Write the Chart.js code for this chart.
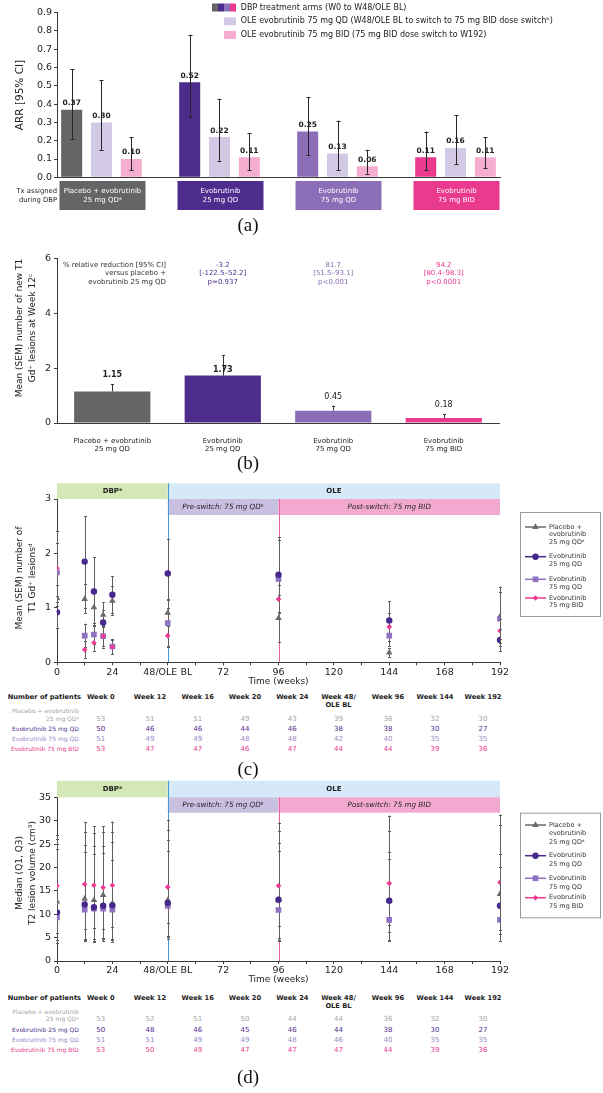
<!DOCTYPE html>
<html><head><meta charset="utf-8">
<script src="https://cdn.jsdelivr.net/npm/chart.js@4.4.1/dist/chart.umd.min.js"></script>
<style>
html,body{margin:0;padding:0;background:#fff}
body{width:603px;height:1093px;position:relative;overflow:hidden;font-family:"DejaVu Sans",sans-serif}
canvas{position:absolute;left:0}
.cap{position:absolute;font-family:"Liberation Serif","DejaVu Serif",serif;font-size:19px;color:#111;transform:translate(-50%,-50%);white-space:nowrap;line-height:1}
.tc{position:absolute;white-space:nowrap;transform:translate(-50%,-50%);line-height:1}
.tr{position:absolute;white-space:nowrap;transform:translate(-100%,-50%);line-height:1}
.tl{position:absolute;white-space:nowrap;transform:translate(0,-50%);line-height:1}
</style></head>
<body>
<canvas id="cA" width="603" height="218" style="top:0px"></canvas>
<canvas id="cB" width="603" height="215" style="top:240px"></canvas>
<canvas id="cC" width="603" height="207" style="top:480px"></canvas>
<canvas id="cD" width="603" height="207" style="top:778px"></canvas>
<div id="extra"></div>
<script>
// ================= DATA =================
// (a) Annualized relapse rate
const armNames = [['Placebo + evobrutinib','25 mg QDᵃ'],['Evobrutinib','25 mg QD'],['Evobrutinib','75 mg QD'],['Evobrutinib','75 mg BID']];
const arrLegend = ['DBP treatment arms (W0 to W48/OLE BL)','OLE evobrutinib 75 mg QD (W48/OLE BL to switch to 75 mg BID dose switchᵇ)','OLE evobrutinib 75 mg BID (75 mg BID dose switch to W192)'];
const arrDBP     = [0.37,0.52,0.25,0.11];
const arrDBPLo   = [0.21,0.33,0.12,0.04];
const arrDBPHi   = [0.59,0.78,0.44,0.25];
const arrOleQD   = [0.30,0.22,0.13,0.16];
const arrOleQDLo = [0.15,0.09,0.04,0.07];
const arrOleQDHi = [0.53,0.43,0.31,0.34];
const arrOleBID  = [0.10,0.11,0.06,0.11];
const arrOleBIDLo= [0.04,0.04,0.02,0.05];
const arrOleBIDHi= [0.22,0.24,0.15,0.22];
const txAssigned = ['Tx assigned','during DBP'];

// (b) new T1 Gd+ lesions at week 12
const t1Arms = [['Placebo + evobrutinib','25 mg QD'],['Evobrutinib','25 mg QD'],['Evobrutinib','75 mg QD'],['Evobrutinib','75 mg BID']];
const t1Mean  = [1.15,1.73,0.45,0.18];
const t1SemHi = [1.41,2.48,0.63,0.32];
const t1RedHeader = ['% relative reduction [95% CI]','versus placebo +','evobrutinib 25 mg QD'];
const t1Red   = ['','-3.2','81.7','94.2'];
const t1RedCI = ['','[-122.5–52.2]','[51.5–93.1]','[80.4–98.3]'];
const t1RedP  = ['','p=0.937','p<0.001','p<0.0001'];

// (c),(d) common
const weeks = [0,12,16,20,24,48,96,144,192];
const weekTicks = [0,24,48,72,96,120,144,168,192];
const weekTickText = ['0','24','48/OLE BL','72','96','120','144','168','192'];
const phaseNames = ['DBPᵃ','OLE'];
const phaseBounds = [0,48,192];
const subPhaseNames = ['Pre-switch: 75 mg QDᵇ','Post-switch: 75 mg BID'];
const subPhaseBounds = [48,96,192];
const seriesNames = [['Placebo +','evobrutinib','25 mg QDᵃ'],['Evobrutinib','25 mg QD'],['Evobrutinib','75 mg QD'],['Evobrutinib','75 mg BID']];

// (c) Mean (SEM) T1 Gd+ lesions
const gdPlacebo   = [1.18,1.16,1.01,0.87,1.13,0.91,0.81,0.18,0.84];
const gdPlaceboLo = [0.95,0.90,0.72,0.64,0.87,0.66,0.38,0.10,0.30];
const gdPlaceboHi = [1.42,1.43,1.30,1.10,1.40,1.16,1.24,0.26,1.39];
const gdE25   = [0.92,1.85,1.30,0.73,1.24,1.63,1.61,0.77,0.41];
const gdE25Lo = [0.63,1.00,0.67,0.50,0.90,1.00,0.93,0.40,0.20];
const gdE25Hi = [1.21,2.69,1.93,0.96,1.58,2.26,2.30,1.13,0.62];
const gdE75   = [1.65,0.49,0.51,0.48,0.29,0.72,1.53,0.49,0.80];
const gdE75Lo = [1.10,0.28,0.33,0.30,0.16,0.30,0.82,0.30,0.42];
const gdE75Hi = [2.20,0.71,0.69,0.66,0.42,1.14,2.24,0.68,1.30];
const gdB75   = [1.73,0.23,0.36,0.48,0.28,0.49,1.16,0.65,0.58];
const gdB75Lo = [1.04,0.07,0.21,0.27,0.15,0.28,0.90,0.40,0.35];
const gdB75Hi = [2.42,0.39,0.50,0.69,0.41,0.70,1.42,0.90,0.80];

// (d) Median (Q1,Q3) T2 lesion volume
const t2Placebo   = [12.7,13.3,13.0,14.1,12.3,13.0,13.1,12.9,14.3];
const t2PlaceboQ1 = [4.5,4.2,4.3,5.0,4.4,5.3,5.0,4.3,5.8];
const t2PlaceboQ3 = [26.0,29.7,28.8,28.8,29.8,30.2,29.6,31.1,31.3];
const t2E25   = [10.4,12.1,11.5,11.8,11.9,12.4,13.1,12.9,11.8];
const t2E25Q1 = [3.9,4.6,4.1,4.8,4.1,4.8,4.2,6.3,4.2];
const t2E25Q3 = [25.0,24.8,24.6,24.6,25.5,25.8,25.3,23.3,22.9];
const t2E75   = [9.3,11.0,11.2,11.2,11.0,11.8,10.9,8.8,8.8];
const t2E75Q1 = [4.4,4.4,4.6,4.2,4.6,5.2,4.5,4.5,4.3];
const t2E75Q3 = [24.0,23.4,22.8,23.0,21.5,23.5,23.6,21.8,20.2];
const t2B75   = [16.1,16.4,16.2,15.7,16.2,15.8,16.1,16.6,16.8];
const t2B75Q1 = [6.0,6.8,7.0,6.9,7.2,8.1,7.5,7.6,6.6];
const t2B75Q3 = [27.0,27.5,27.4,27.5,27.6,28.0,27.8,27.7,29.0];

// patient tables
const tableCols = ['Week 0','Week 12','Week 16','Week 20','Week 24',['Week 48/','OLE BL'],'Week 96','Week 144','Week 192'];
const tableRows = [['Placebo + evobrutinib','25 mg QDᵃ'],['Evobrutinib 25 mg QD'],['Evobrutinib 75 mg QD'],['Evobrutinib 75 mg BID']];
const nGdPlacebo = [53,51,51,49,43,39,36,32,30];
const nGdE25     = [50,46,46,44,46,38,38,30,27];
const nGdE75     = [51,49,49,48,48,42,40,35,35];
const nGdB75     = [53,47,47,46,47,44,44,39,36];
const nT2Placebo = [53,52,51,50,44,44,36,32,30];
const nT2E25     = [50,48,46,45,46,44,38,30,27];
const nT2E75     = [51,51,49,49,48,46,40,35,35];
const nT2B75     = [53,50,49,47,47,47,44,39,36];

// ================= STYLE =================
const armColors = ['#646567','#4d2c8d','#8b6eb7','#e93a8e'];
const oleQDColor = '#d2c9e5', oleBIDColor = '#f5add0';
const seriesStyle = [
  {color:'#6a6a6a', style:'triangle', r:3.8, order:3},
  {color:'#47288d', style:'circle',   r:3.2, order:1},
  {color:'#8e71c1', style:'rect',     r:4.0, order:2},
  {color:'#ee3a95', style:'rectRot',  r:2.8, order:0}
];
const rowColors = ['#a3a3a3','#4d2c8d','#9a86c6','#e93a8e'];
const AXIS = '#3a3a3a';
const PAGE_W = 603;
const FONT = '"DejaVu Sans", sans-serif';

Chart.defaults.font.family = FONT;
Chart.defaults.color = '#222';
Chart.defaults.animation = false;
Chart.defaults.responsive = false;
Chart.defaults.maintainAspectRatio = false;
Chart.defaults.devicePixelRatio = 1;
Chart.defaults.plugins.legend.display = false;
Chart.defaults.plugins.tooltip.enabled = false;

function font(size, weight, style){ return (style||'') + ' ' + (weight||'normal') + ' ' + size + 'px ' + FONT; }
function yTitle(ctx, lines, x, cy, size, gap){
  ctx.save(); ctx.font = font(size); ctx.fillStyle = '#222'; ctx.textAlign='center'; ctx.textBaseline='middle';
  lines.forEach((t,i)=>{ ctx.save(); ctx.translate(x + i*gap, cy); ctx.rotate(-Math.PI/2); ctx.fillText(t,0,0); ctx.restore(); });
  ctx.restore();
}
function errorBars(chart, color, cap, lw){
  const ctx = chart.ctx, ys = chart.scales.y;
  ctx.save(); ctx.strokeStyle = color; ctx.lineWidth = lw||1;
  chart.data.datasets.forEach((ds, di) => {
    if (!ds.hi) return;
    const meta = chart.getDatasetMeta(di);
    meta.data.forEach((el, i) => {
      const x = Math.round(el.x) + 0.5;
      const yh = ys.getPixelForValue(ds.hi[i]);
      const yl = ds.lo ? ys.getPixelForValue(ds.lo[i]) : el.y;
      ctx.beginPath();
      ctx.moveTo(x, yl); ctx.lineTo(x, yh);
      ctx.moveTo(x-cap, Math.round(yh)+0.5); ctx.lineTo(x+cap, Math.round(yh)+0.5);
      if (ds.lo) { ctx.moveTo(x-cap, Math.round(yl)+0.5); ctx.lineTo(x+cap, Math.round(yl)+0.5); }
      ctx.stroke();
    });
  });
  ctx.restore();
}

// ================= PANEL A =================
const A = {left:57, right:500, top:12.7, bottom:177.3, h:218};
const groupIdx = armNames.map((_,i)=>i);
new Chart(document.getElementById('cA'), {
  type:'bar',
  data:{datasets:[
    {label:arrLegend[0], data:groupIdx.map(i=>({x:i,y:arrDBP[i]})), lo:arrDBPLo, hi:arrDBPHi, backgroundColor:armColors},
    {label:arrLegend[1], data:groupIdx.map(i=>({x:i,y:arrOleQD[i]})), lo:arrOleQDLo, hi:arrOleQDHi, backgroundColor:oleQDColor},
    {label:arrLegend[2], data:groupIdx.map(i=>({x:i,y:arrOleBID[i]})), lo:arrOleBIDLo, hi:arrOleBIDHi, backgroundColor:oleBIDColor}
  ]},
  options:{
    layout:{padding:{left:0, top:A.top, right:PAGE_W-A.right, bottom:0}},
    datasets:{bar:{categoryPercentage:0.758, barPercentage:0.705}},
    scales:{
      x:{type:'linear', offset:false, min:-0.377, max:3.377,
         afterBuildTicks:s=>{ s.ticks = groupIdx.map(v=>({value:v})); },
         ticks:{display:false}, grid:{display:false, offset:false}, border:{color:AXIS},
         afterFit:s=>{ s.height = A.h - A.bottom; }},
      y:{min:0, max:0.9, ticks:{stepSize:0.1, callback:v=>v.toFixed(1), font:{size:9.5}, padding:2, color:'#222'},
         grid:{drawOnChartArea:false, tickLength:3, color:AXIS}, border:{color:AXIS},
         afterFit:s=>{ s.width = A.left; }}
    }
  },
  plugins:[{
    id:'panelA',
    afterDatasetsDraw(chart){
      errorBars(chart, '#262626', 2, 1);
      const ctx = chart.ctx;
      ctx.save(); ctx.font = font(7.5,'bold'); ctx.fillStyle = '#222'; ctx.textAlign='center'; ctx.textBaseline='middle';
      chart.data.datasets.forEach((ds, di) => {
        chart.getDatasetMeta(di).data.forEach((el, i) => {
          ctx.fillText(ds.data[i].y.toFixed(2), el.x, el.y - 6.5);
        });
      });
      ctx.restore();
    },
    afterDraw(chart){
      const ctx = chart.ctx, xs = chart.scales.x;
      ctx.save();
      groupIdx.forEach(i => {
        const cx = xs.getPixelForValue(i) + 1;
        ctx.fillStyle = armColors[i];
        ctx.fillRect(cx-43, 181, 86, 29);
        ctx.fillStyle = '#fff'; ctx.font = font(7); ctx.textAlign='center'; ctx.textBaseline='middle';
        ctx.fillText(armNames[i][0], cx, 191.5);
        ctx.fillText(armNames[i][1], cx, 200.5);
      });
      ctx.fillStyle = '#222'; ctx.font = font(6.8); ctx.textAlign='right'; ctx.textBaseline='middle';
      ctx.fillText(txAssigned[0], 57, 191.5);
      ctx.fillText(txAssigned[1], 57, 200.5);
      armColors.forEach((c,k)=>{ ctx.fillStyle=c; ctx.fillRect(212 + k*6, 3.5, 6, 8); });
      ctx.fillStyle = oleQDColor; ctx.fillRect(224, 17.3, 12, 8);
      ctx.fillStyle = oleBIDColor; ctx.fillRect(224, 31, 12, 8);
      ctx.fillStyle = '#222'; ctx.font = font(8); ctx.textAlign='left';
      ctx.fillText(arrLegend[0], 240.8, 7.5);
      ctx.fillText(arrLegend[1], 240.8, 21.3);
      ctx.fillText(arrLegend[2], 240.8, 35);
      ctx.restore();
      yTitle(ctx, ['ARR [95% CI]'], 20, (A.top+A.bottom)/2, 10.5, 0);
    }
  }]
});

// ================= PANEL B =================
const B = {left:57, right:499, top:18.3, bottom:183, h:215};
const t1Bold = [true,true,false,false];
new Chart(document.getElementById('cB'), {
  type:'bar',
  data:{labels:t1Arms, datasets:[{label:'Mean (SEM) new T1 Gd+ lesions', data:t1Mean, hi:t1SemHi, backgroundColor:armColors, categoryPercentage:0.69, barPercentage:1}]},
  options:{
    layout:{padding:{left:0, top:B.top, right:PAGE_W-B.right, bottom:0}},
    scales:{
      x:{ticks:{font:{size:7}, padding:5.5, color:'#222'}, grid:{display:false}, border:{color:AXIS},
         afterFit:s=>{ s.height = B.h - B.bottom; }},
      y:{min:0, max:6, ticks:{stepSize:2, font:{size:9.5}, padding:3, color:'#222'},
         grid:{drawOnChartArea:false, tickLength:3, color:AXIS}, border:{color:AXIS},
         afterFit:s=>{ s.width = B.left; }}
    }
  },
  plugins:[{
    id:'panelB',
    afterDatasetsDraw(chart){
      errorBars(chart, '#333', 1.5, 1);
      const ctx = chart.ctx, ys = chart.scales.y, ds = chart.data.datasets[0];
      ctx.save(); ctx.fillStyle = '#222'; ctx.textAlign='center'; ctx.textBaseline='middle';
      chart.getDatasetMeta(0).data.forEach((el, i) => {
        const capY = ys.getPixelForValue(ds.hi[i]);
        const y = (el.y - capY > 15) ? el.y - 6 : capY - 9;
        ctx.font = font(8, t1Bold[i] ? 'bold' : 'normal');
        ctx.fillText(t1Mean[i].toFixed(2), el.x, y);
      });
      ctx.restore();
    },
    afterDraw(chart){
      const ctx = chart.ctx, xs = chart.scales.x;
      ctx.save(); ctx.font = font(7); ctx.textBaseline='middle';
      ctx.fillStyle = '#333'; ctx.textAlign='right';
      t1RedHeader.forEach((t,k)=>ctx.fillText(t, 166, 24.7 + k*8.7));
      ctx.textAlign='center';
      t1Arms.forEach((_,i)=>{
        if (!t1Red[i]) return;
        const cx = xs.getPixelForValue(i);
        ctx.fillStyle = armColors[i];
        [t1Red[i], t1RedCI[i], t1RedP[i]].forEach((t,k)=>ctx.fillText(t, cx, 24.7 + k*8.7));
      });
      ctx.restore();
      yTitle(ctx, ['Mean (SEM) number of new T1','Gd⁺ lesions at Week 12ᶜ'], 20, 88, 9, 12.7);
    }
  }]
});

// ================= PANELS C / D =================
function phasePlugin(cfg){
  return {
    id:'phases'+cfg.id,
    beforeDatasetsDraw(chart){
      const ctx = chart.ctx, xs = chart.scales.x, a = chart.chartArea;
      const r1t = a.top - cfg.band1, r2b = a.top + cfg.band2;
      ctx.save();
      const bandCol = ['#d3e8b6','#d5e9f8'], subCol = ['#c8bfe1','#f3a9cf'];
      phaseNames.forEach((n,k)=>{
        const x0 = xs.getPixelForValue(phaseBounds[k]), x1 = xs.getPixelForValue(phaseBounds[k+1]);
        ctx.fillStyle = bandCol[k]; ctx.fillRect(x0, r1t, x1-x0, a.top-r1t);
        ctx.fillStyle = '#222'; ctx.font = font(7,'bold'); ctx.textAlign='center'; ctx.textBaseline='middle';
        ctx.fillText(n, (x0+x1)/2, (r1t+a.top)/2);
      });
      subPhaseNames.forEach((n,k)=>{
        const x0 = xs.getPixelForValue(subPhaseBounds[k]), x1 = xs.getPixelForValue(subPhaseBounds[k+1]);
        ctx.fillStyle = subCol[k]; ctx.fillRect(x0, a.top, x1-x0, r2b-a.top);
        ctx.fillStyle = '#222'; ctx.font = font(7.2,'normal','italic'); ctx.textAlign='center'; ctx.textBaseline='middle';
        ctx.fillText(n, (x0+x1)/2, (a.top+r2b)/2);
      });
      ctx.lineWidth = 1;
      const xb = Math.round(xs.getPixelForValue(phaseBounds[1])) + 0.5;
      ctx.strokeStyle = '#3f9bd8'; ctx.beginPath(); ctx.moveTo(xb, r1t); ctx.lineTo(xb, a.bottom); ctx.stroke();
      const xp = Math.round(xs.getPixelForValue(subPhaseBounds[1])) + 0.5;
      ctx.strokeStyle = '#ec5fa3'; ctx.beginPath(); ctx.moveTo(xp, a.top); ctx.lineTo(xp, a.bottom); ctx.stroke();
      ctx.restore();
      errorBars(chart, '#5e5e5e', 1.5, 1);
    },
    afterDraw(chart){
      const ctx = chart.ctx, L = cfg.legend;
      ctx.save();
      ctx.strokeStyle = '#9a9a9a'; ctx.lineWidth = 1;
      ctx.strokeRect(L.x0+0.5, L.y0+0.5, L.x1-L.x0, L.y1-L.y0);
      ctx.font = font(6.5); ctx.textAlign='left'; ctx.textBaseline='middle';
      seriesNames.forEach((lines,k)=>{
        const y = L.rows[k], st = seriesStyle[k];
        ctx.strokeStyle = st.color; ctx.lineWidth = 1.5;
        ctx.beginPath(); ctx.moveTo(L.x0+5, y); ctx.lineTo(L.x0+26, y); ctx.stroke();
        ctx.fillStyle = st.color; ctx.strokeStyle = st.color;
        Chart.helpers.drawPoint(ctx, {pointStyle:st.style, radius:st.r, rotation:0, borderWidth:0}, L.x0+15.5, y);
        ctx.fillStyle = '#333';
        lines.forEach((t,j)=>ctx.fillText(t, L.x0+29, y + j*L.gap));
      });
      ctx.restore();
      yTitle(ctx, cfg.title, 20, cfg.titleY, 9, 12.7);
    }
  };
}
function lesionChart(id, cfg){
  const datasets = cfg.series.map((s,k)=>({
    label: seriesNames[k].join(' '),
    data: weeks.map((w,i)=>({x:w, y:s.mid[i]})),
    lo: s.lo, hi: s.hi,
    pointStyle: seriesStyle[k].style, pointRadius: seriesStyle[k].r,
    backgroundColor: seriesStyle[k].color, borderColor: seriesStyle[k].color,
    pointBorderWidth: 0, showLine:false, order: seriesStyle[k].order
  }));
  new Chart(document.getElementById(id), {
    type:'scatter',
    data:{datasets},
    options:{
      layout:{padding:{left:0, top:cfg.top, right:PAGE_W-500, bottom:0}},
      scales:{
        x:{type:'linear', min:0, max:192,
           afterBuildTicks:s=>{ const t=[]; for(let v=0; v<=192; v+=12) t.push({value:v}); s.ticks=t; },
           ticks:{autoSkip:false, maxRotation:0, font:{size:9.5}, padding:cfg.xPad, color:'#222',
                  callback:v=>{ const k = weekTicks.indexOf(v); return k>=0 ? weekTickText[k] : ''; }},
           grid:{drawOnChartArea:false, tickLength:3, color:AXIS}, border:{color:AXIS},
           title:{display:true, text:'Time (weeks)', font:{size:9}, padding:{top:0,bottom:0}, color:'#222'},
           afterFit:s=>{ s.height = cfg.h - cfg.bottom; }},
        y:{min:0, max:cfg.ymax, ticks:{stepSize:cfg.ystep, font:{size:9.5}, padding:3, color:'#222'},
           grid:{drawOnChartArea:false, tickLength:3, color:AXIS}, border:{color:AXIS},
           afterFit:s=>{ s.width = 57; }}
      }
    },
    plugins:[phasePlugin(cfg)]
  });
}
lesionChart('cC', {
  id:'C', top:19, bottom:182.3, h:207, ymax:3, ystep:1, xPad:1.7, band1:15.7, band2:16,
  series:[{mid:gdPlacebo,lo:gdPlaceboLo,hi:gdPlaceboHi},{mid:gdE25,lo:gdE25Lo,hi:gdE25Hi},{mid:gdE75,lo:gdE75Lo,hi:gdE75Hi},{mid:gdB75,lo:gdB75Lo,hi:gdB75Hi}],
  legend:{x0:520, x1:600, y0:32, y1:136, rows:[47,76.7,99.3,118], gap:7.8},
  title:['Mean (SEM) number of','T1 Gd⁺ lesionsᵈ'], titleY:98
});
lesionChart('cD', {
  id:'D', top:19.3, bottom:183, h:207, ymax:35, ystep:5, xPad:1, band1:16.6, band2:15.4,
  series:[{mid:t2Placebo,lo:t2PlaceboQ1,hi:t2PlaceboQ3},{mid:t2E25,lo:t2E25Q1,hi:t2E25Q3},{mid:t2E75,lo:t2E75Q1,hi:t2E75Q3},{mid:t2B75,lo:t2B75Q1,hi:t2B75Q3}],
  legend:{x0:520, x1:600, y0:34.7, y1:139.3, rows:[47,77.7,100.3,119.7], gap:8.7},
  title:['Median (Q1, Q3)','T2 lesion volume (cm³)'], titleY:95
});

// ================= TABLES & CAPTIONS =================
const host = document.getElementById('extra');
function addText(cls, x, y, text, st){
  const d = document.createElement('div'); d.className = cls;
  d.style.left = x+'px'; d.style.top = y+'px'; d.textContent = text;
  Object.assign(d.style, st||{}); host.appendChild(d);
}
const colX = [100.8,150,197.7,245,292.3,338.5,388,435,483];
function buildTable(top, counts){
  addText('tl', 7.7, top, 'Number of patients', {fontWeight:'bold', fontSize:'6.7px', color:'#222'});
  tableCols.forEach((c,i)=>{
    const lines = Array.isArray(c) ? c : [c];
    lines.forEach((t,j)=>addText('tc', colX[i], top + j*8, t, {fontWeight:'bold', fontSize:'6.7px', color:'#222'}));
  });
  const rowY = [top+21.5, top+31.8, top+41.8, top+51.8];
  tableRows.forEach((lab,r)=>{
    const st = {fontSize:'6px', color:rowColors[r]};
    if (lab.length === 2) { addText('tr', 78.8, rowY[r]-7.7, lab[0], st); addText('tr', 78.8, rowY[r], lab[1], st); }
    else addText('tr', 78.8, rowY[r], lab[0], st);
    counts[r].forEach((n,i)=>addText('tc', colX[i], rowY[r], String(n), {fontSize:'7px', color:rowColors[r]}));
  });
}
buildTable(697, [nGdPlacebo, nGdE25, nGdE75, nGdB75]);
buildTable(997.7, [nT2Placebo, nT2E25, nT2E75, nT2B75]);
[['(a)',224],['(b)',462],['(c)',768],['(d)',1076]].forEach(([t,y])=>addText('cap', 248, y, t));
</script>
</body></html>
